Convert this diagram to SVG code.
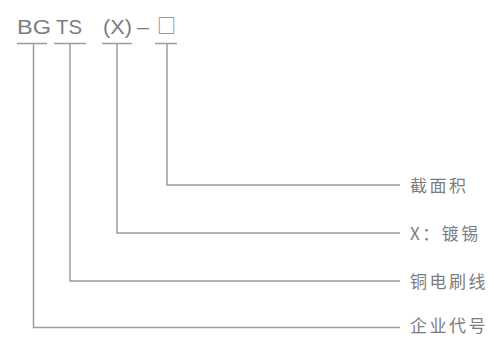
<svg xmlns="http://www.w3.org/2000/svg" width="494" height="338" viewBox="0 0 494 338">
<style>
.code{font-family:"Liberation Sans","Noto Sans CJK SC",sans-serif;font-size:20px;fill:#7d7d7d;}
.lbl{font-family:"Noto Sans CJK SC",sans-serif;font-size:17px;fill:#7d7d7d;letter-spacing:2.5px;}
.ln{stroke:#9c9c9c;stroke-width:1.5;fill:none;}
</style>
<rect width="494" height="338" fill="#ffffff"/>
<g id="code">
<text class="code" y="34"><tspan x="17" textLength="34" lengthAdjust="spacingAndGlyphs">BG</tspan><tspan x="56" textLength="26" lengthAdjust="spacingAndGlyphs">TS</tspan><tspan x="103" textLength="29" lengthAdjust="spacingAndGlyphs">(X)</tspan><tspan x="137" textLength="12" lengthAdjust="spacingAndGlyphs">–</tspan></text>
<text class="code" x="166.5" y="33" text-anchor="middle" style="font-family:'Noto Sans CJK SC',sans-serif;font-size:19px">□</text>
</g>
<g id="label-area"><text class="lbl" x="410" y="192">截面积</text></g>
<g id="label-tin"><text class="lbl" x="410" y="240">X：镀锡</text></g>
<g id="label-copper"><text class="lbl" x="410" y="288">铜电刷线</text></g>
<g id="label-company"><text class="lbl" x="410" y="332">企业代号</text></g>
<g id="connectors">
<path class="ln" d="M17 43.5H47M54 43.5H86M102 43.5H132M155 43.5H177"/>
<path class="ln" d="M167 43.5V185H400"/>
<path class="ln" d="M117 43.5V233H400"/>
<path class="ln" d="M70 43.5V281H400"/>
<path class="ln" d="M33.5 43.5V327.5H400"/>
</g>
</svg>
